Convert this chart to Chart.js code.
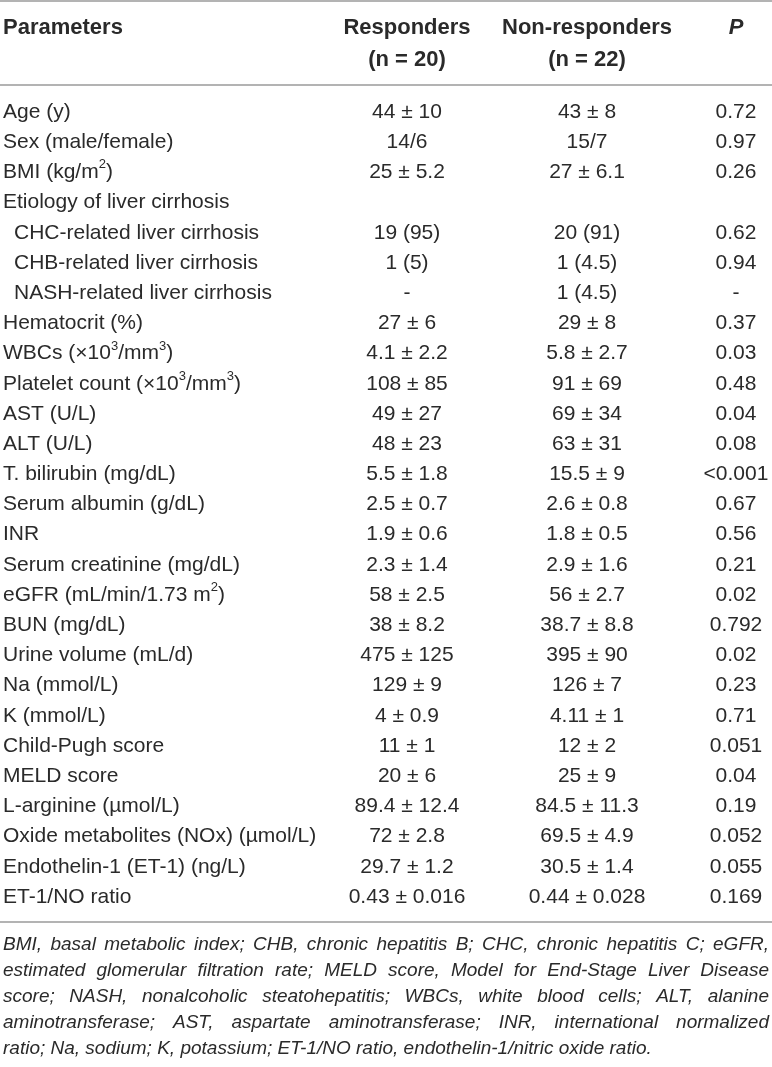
<!DOCTYPE html>
<html>
<head>
<meta charset="utf-8">
<script src="https://cdn.jsdelivr.net/npm/chart.js@4.4.1/dist/chart.umd.min.js"></script>
<style>
  html, body { margin: 0; padding: 0; background: #ffffff; }
  #wrap { width: 772px; height: 1067px; }
  canvas { display: block; }
</style>
</head>
<body>
<div id="wrap"><canvas id="c" width="772" height="1067"></canvas></div>
<script>
// ---------- data ----------
const headers = ["Parameters", "Responders", "Non-responders", "P"];
const subHeaders = ["", "(n = 20)", "(n = 22)", ""];

const parameters = [
  "Age (y)",
  "Sex (male/female)",
  "BMI (kg/m²)",
  "Etiology of liver cirrhosis",
  "CHC-related liver cirrhosis",
  "CHB-related liver cirrhosis",
  "NASH-related liver cirrhosis",
  "Hematocrit (%)",
  "WBCs (×10³/mm³)",
  "Platelet count (×10³/mm³)",
  "AST (U/L)",
  "ALT (U/L)",
  "T. bilirubin (mg/dL)",
  "Serum albumin (g/dL)",
  "INR",
  "Serum creatinine (mg/dL)",
  "eGFR (mL/min/1.73 m²)",
  "BUN (mg/dL)",
  "Urine volume (mL/d)",
  "Na (mmol/L)",
  "K (mmol/L)",
  "Child-Pugh score",
  "MELD score",
  "L-arginine (µmol/L)",
  "Oxide metabolites (NOx) (µmol/L)",
  "Endothelin-1 (ET-1) (ng/L)",
  "ET-1/NO ratio"
];

const responders = [
  "44 ± 10", "14/6", "25 ± 5.2", "", "19 (95)", "1 (5)", "-",
  "27 ± 6", "4.1 ± 2.2", "108 ± 85", "49 ± 27", "48 ± 23", "5.5 ± 1.8",
  "2.5 ± 0.7", "1.9 ± 0.6", "2.3 ± 1.4", "58 ± 2.5", "38 ± 8.2", "475 ± 125",
  "129 ± 9", "4 ± 0.9", "11 ± 1", "20 ± 6", "89.4 ± 12.4", "72 ± 2.8",
  "29.7 ± 1.2", "0.43 ± 0.016"
];

const nonResponders = [
  "43 ± 8", "15/7", "27 ± 6.1", "", "20 (91)", "1 (4.5)", "1 (4.5)",
  "29 ± 8", "5.8 ± 2.7", "91 ± 69", "69 ± 34", "63 ± 31", "15.5 ± 9",
  "2.6 ± 0.8", "1.8 ± 0.5", "2.9 ± 1.6", "56 ± 2.7", "38.7 ± 8.8", "395 ± 90",
  "126 ± 7", "4.11 ± 1", "12 ± 2", "25 ± 9", "84.5 ± 11.3", "69.5 ± 4.9",
  "30.5 ± 1.4", "0.44 ± 0.028"
];

const pValues = [
  "0.72", "0.97", "0.26", "", "0.62", "0.94", "-",
  "0.37", "0.03", "0.48", "0.04", "0.08", "<0.001",
  "0.67", "0.56", "0.21", "0.02", "0.792", "0.02",
  "0.23", "0.71", "0.051", "0.04", "0.19", "0.052",
  "0.055", "0.169"
];

const subRows = ["CHC-related liver cirrhosis", "CHB-related liver cirrhosis", "NASH-related liver cirrhosis"];

const footnoteLines = [
  "BMI, basal metabolic index; CHB, chronic hepatitis B; CHC, chronic hepatitis C; eGFR,",
  "estimated glomerular filtration rate; MELD score, Model for End-Stage Liver Disease",
  "score; NASH, nonalcoholic steatohepatitis; WBCs, white blood cells; ALT, alanine",
  "aminotransferase; AST, aspartate aminotransferase; INR, international normalized",
  "ratio; Na, sodium; K, potassium; ET-1/NO ratio, endothelin-1/nitric oxide ratio."
];

// ---------- layout / style ----------
const layoutCfg = {
  colX: [3, 407, 587, 736],        // left edge for col 0, centers for others (x-scale units = px)
  indent: 11,
  headerLine1: 28,
  headerLine2: 60,
  topRule: 1,
  headRule: 85,
  bottomRuleGap: 25,
  footFirstGap: 48,
  footLineStep: 26,
  font: "'Liberation Sans', Arial, Helvetica, sans-serif",
  headSize: 22,
  bodySize: 21,
  footSize: 19,
  textColor: "#2a2a2a",
  ruleColor: "#9a9a9a"
};

const SUP = { "²": "2", "³": "3" };

// draw text where ² / ³ are rendered as raised smaller digits
function segments(text) {
  const out = [];
  let cur = "", sup = false;
  for (const ch of text) {
    const isSup = ch in SUP;
    if (isSup !== sup && cur) { out.push({ t: cur, sup }); cur = ""; }
    sup = isSup;
    cur += isSup ? SUP[ch] : ch;
  }
  if (cur) out.push({ t: cur, sup });
  return out;
}

function drawRich(ctx, text, x, y, size, align) {
  const segs = segments(text);
  const supSize = Math.round(size * 0.62);
  const base = ctx.font;
  const normalFont = size + "px " + layoutCfg.font;
  const supFont = supSize + "px " + layoutCfg.font;
  let w = 0;
  segs.forEach((s) => { ctx.font = s.sup ? supFont : normalFont; s.w = ctx.measureText(s.t).width; w += s.w; });
  let cx = align === "center" ? x - w / 2 : x;
  ctx.textAlign = "left";
  segs.forEach((s) => {
    ctx.font = s.sup ? supFont : normalFont;
    ctx.fillText(s.t, cx, s.sup ? y - size * 0.36 : y);
    cx += s.w;
  });
  ctx.font = base;
}

const tablePlugin = {
  id: "tablePlugin",
  afterDraw(chart) {
    const ctx = chart.ctx;
    const xs = chart.scales.x;
    const ys = chart.scales.y;
    const L = layoutCfg;
    const W = chart.width;
    ctx.save();
    ctx.fillStyle = L.textColor;
    ctx.textBaseline = "middle";

    // rules
    ctx.strokeStyle = L.ruleColor;
    ctx.lineWidth = 1.3;
    const rule = (y) => { ctx.beginPath(); ctx.moveTo(0, y); ctx.lineTo(W, y); ctx.stroke(); };
    rule(L.topRule);
    rule(L.headRule);
    const lastY = ys.getPixelForValue(parameters.length - 1);
    rule(lastY + L.bottomRuleGap);

    // header
    const bold = "bold " + L.headSize + "px " + L.font;
    ctx.font = bold;
    headers.forEach((h, j) => {
      const x = xs.getPixelForValue(L.colX[j]);
      if (j === 0) { ctx.textAlign = "left"; ctx.fillText(h, x, L.headerLine1); }
      else if (j === 3) {
        ctx.font = "italic bold " + L.headSize + "px " + L.font;
        ctx.textAlign = "center"; ctx.fillText(h, x, L.headerLine1);
        ctx.font = bold;
      } else {
        ctx.textAlign = "center"; ctx.fillText(h, x, L.headerLine1);
        ctx.fillText(subHeaders[j], x, L.headerLine2);
      }
    });

    // body
    ctx.font = L.bodySize + "px " + L.font;
    parameters.forEach((p, i) => {
      const y = ys.getPixelForValue(i);
      const x0 = xs.getPixelForValue(L.colX[0]) + (subRows.includes(p) ? L.indent : 0);
      drawRich(ctx, p, x0, y, L.bodySize, "left");
      ctx.textAlign = "center";
      ctx.fillText(responders[i], xs.getPixelForValue(L.colX[1]), y);
      ctx.fillText(nonResponders[i], xs.getPixelForValue(L.colX[2]), y);
      ctx.fillText(pValues[i], xs.getPixelForValue(L.colX[3]), y);
    });

    // footnote (justified)
    ctx.font = "italic " + L.footSize + "px " + L.font;
    ctx.textAlign = "left";
    const left = 3, right = W - 3;
    footnoteLines.forEach((line, k) => {
      const y = lastY + L.footFirstGap + k * L.footLineStep;
      const words = line.split(" ");
      if (k === footnoteLines.length - 1) { ctx.fillText(line, left, y); return; }
      const total = words.reduce((s, w) => s + ctx.measureText(w).width, 0);
      const gap = (right - left - total) / (words.length - 1);
      let x = left;
      words.forEach((w) => { ctx.fillText(w, x, y); x += ctx.measureText(w).width + gap; });
    });
    ctx.restore();
  }
};

new Chart(document.getElementById("c"), {
  type: "line",
  data: {
    labels: parameters,
    datasets: [{
      data: parameters.map((p, i) => ({ x: 0, y: p })),
      showLine: false,
      pointRadius: 0,
      pointHoverRadius: 0
    }]
  },
  options: {
    responsive: false,
    animation: false,
    devicePixelRatio: 1,
    events: [],
    layout: { padding: { top: 112, bottom: 170, left: 0, right: 0 } },
    plugins: { legend: { display: false }, tooltip: { enabled: false } },
    scales: {
      x: { type: "linear", min: 0, max: 772, display: false },
      y: { type: "category", labels: parameters, offset: false, display: false }
    }
  },
  plugins: [tablePlugin]
});
</script>
</body>
</html>
